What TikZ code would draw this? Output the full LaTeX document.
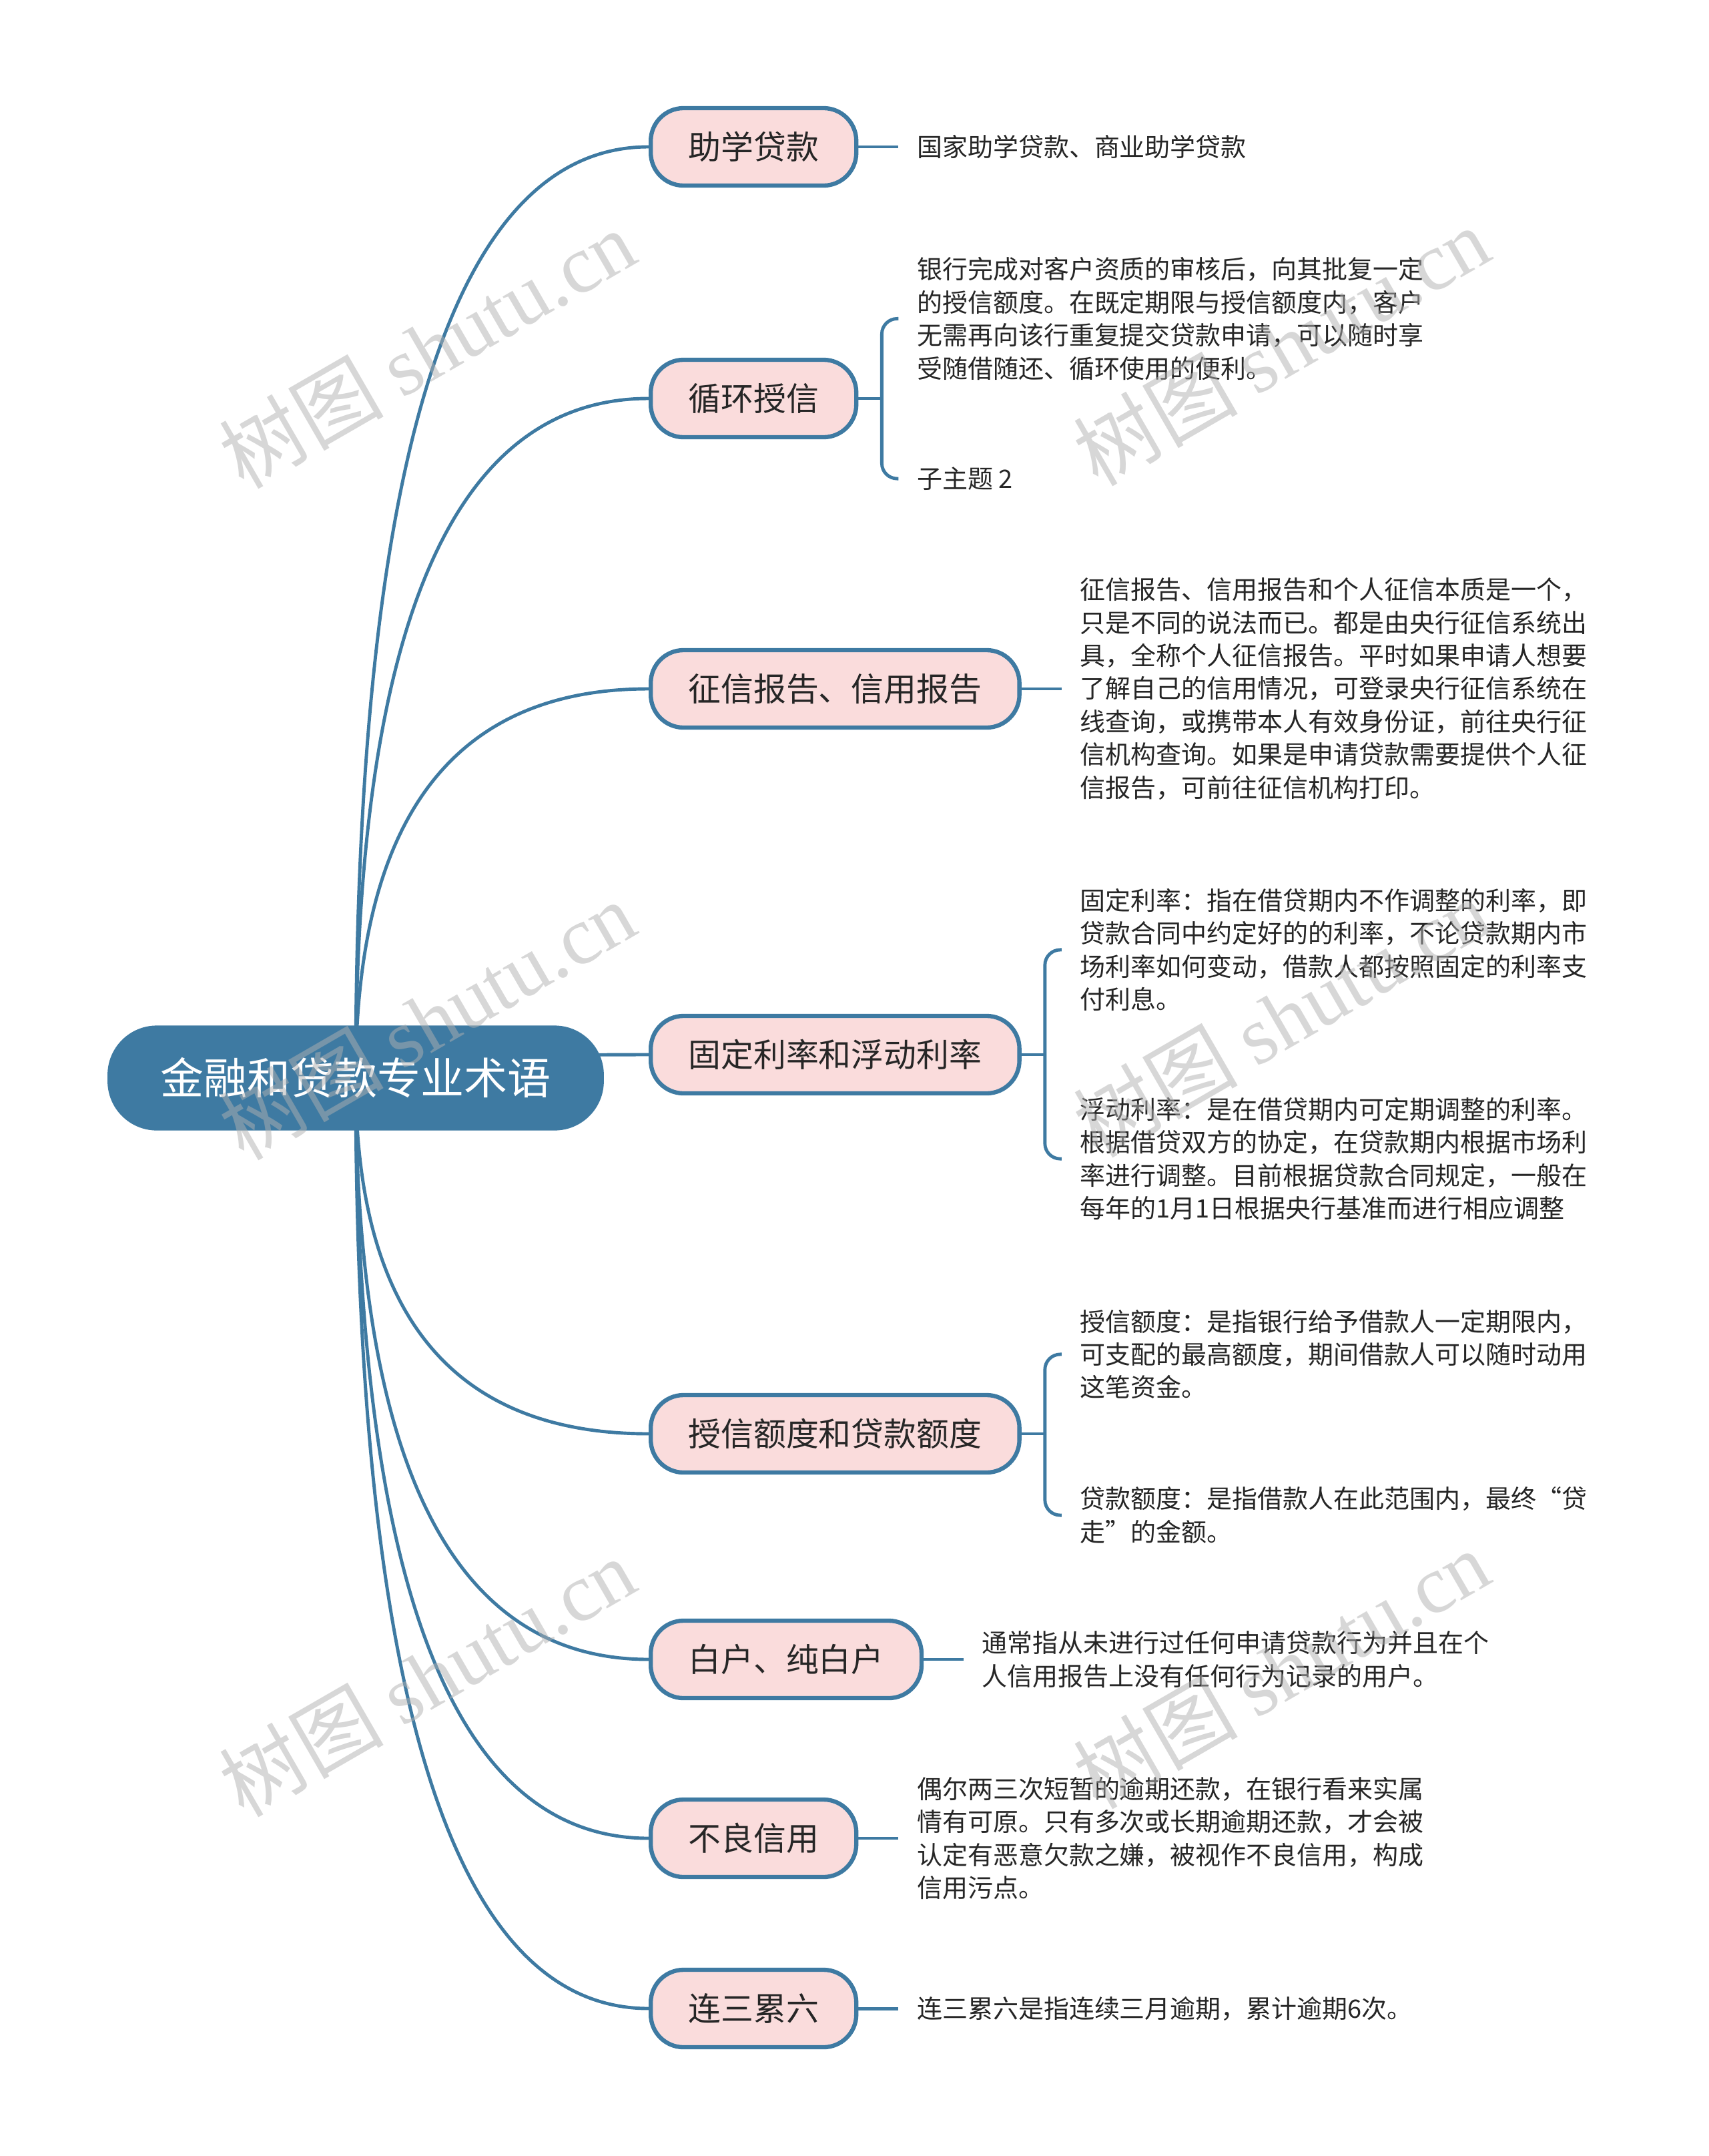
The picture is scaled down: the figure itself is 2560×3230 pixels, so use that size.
\documentclass[tikz,border=0pt]{standalone}
\usepackage{fontspec}
\setmainfont{Noto Sans CJK SC}
\newfontfamily\wmlatin{Liberation Serif}
\usepackage{tikz}
\usetikzlibrary{positioning,calc,backgrounds}
\definecolor{mapblue}{HTML}{3E7AA2}
\definecolor{tintpink}{HTML}{FADCDC}
\definecolor{inkgrey}{HTML}{262626}
\definecolor{markgrey}{HTML}{B0B0B0}

\begin{document}
\begin{tikzpicture}[x=0.01cm,y=0.01cm,
 root/.style={fill=mapblue,rounded corners=21pt,text=white,font=\fontsize{18.5}{22}\selectfont,minimum height=44.7pt,inner xsep=22.5pt},
 topic/.style={draw=mapblue,line width=1.8pt,fill=tintpink,rounded corners=14pt,text=inkgrey,font=\fontsize{13.9}{17}\selectfont,minimum height=33pt,inner xsep=16pt,anchor=west},
 leaf/.style={text=inkgrey,font=\fontsize{10.8}{14.05}\selectfont,align=left,inner xsep=0.27cm,inner ysep=0pt},
 lin/.style={draw=mapblue,line width=1.4pt},
 wmark/.style={rotate=30,text=markgrey,text opacity=0.5,font=\fontsize{35}{35}\selectfont}]
\useasboundingbox (0,0) rectangle (2560,-3230);
\node[root] (root) at (533,-1615) {金融和贷款专业术语};
\node[topic] (b1) at (972,-220) {助学贷款};
\node[topic] (b2) at (972,-597) {循环授信};
\node[topic] (b3) at (972,-1032) {征信报告、信用报告};
\node[topic] (b4) at (972,-1580) {固定利率和浮动利率};
\node[topic] (b5) at (972,-2148) {授信额度和贷款额度};
\node[topic] (b6) at (972,-2486) {白户、纯白户};
\node[topic] (b7) at (972,-2754) {不良信用};
\node[topic] (b8) at (972,-3009) {连三累六};
\node[leaf,right=0.6cm of b1] (l1) {国家助学贷款、商业助学贷款};
\node[leaf,right=0.6cm of b2,yshift=1.195cm] (l2a) {银行完成对客户资质的审核后，向其批复一定\\的授信额度。在既定期限与授信额度内，客户\\无需再向该行重复提交贷款申请，可以随时享\\受随借随还、循环使用的便利。};
\node[leaf,right=0.6cm of b2,yshift=-1.2cm] (l2b) {子主题 2};
\node[leaf,right=0.6cm of b3] (l3) {征信报告、信用报告和个人征信本质是一个，\\只是不同的说法而已。都是由央行征信系统出\\具，全称个人征信报告。平时如果申请人想要\\了解自己的信用情况，可登录央行征信系统在\\线查询，或携带本人有效身份证，前往央行征\\信机构查询。如果是申请贷款需要提供个人征\\信报告，可前往征信机构打印。};
\node[leaf,right=0.6cm of b4,yshift=1.57cm] (l4a) {固定利率：指在借贷期内不作调整的利率，即\\贷款合同中约定好的的利率，不论贷款期内市\\场利率如何变动，借款人都按照固定的利率支\\付利息。};
\node[leaf,right=0.6cm of b4,yshift=-1.56cm] (l4b) {浮动利率：是在借贷期内可定期调整的利率。\\根据借贷双方的协定，在贷款期内根据市场利\\率进行调整。目前根据贷款合同规定，一般在\\每年的1月1日根据央行基准而进行相应调整};
\node[leaf,right=0.6cm of b5,yshift=1.19cm] (l5a) {授信额度：是指银行给予借款人一定期限内，\\可支配的最高额度，期间借款人可以随时动用\\这笔资金。};
\node[leaf,right=0.6cm of b5,yshift=-1.22cm] (l5b) {贷款额度：是指借款人在此范围内，最终“贷\\走”的金额。};
\node[leaf,right=0.6cm of b6] (l6) {通常指从未进行过任何申请贷款行为并且在个\\人信用报告上没有任何行为记录的用户。};
\node[leaf,right=0.6cm of b7] (l7) {偶尔两三次短暂的逾期还款，在银行看来实属\\情有可原。只有多次或长期逾期还款，才会被\\认定有恶意欠款之嫌，被视作不良信用，构成\\信用污点。};
\node[leaf,right=0.6cm of b8] (l8) {连三累六是指连续三月逾期，累计逾期6次。};
\coordinate[right=0.35cm of b2] (j2);
\coordinate[right=0.35cm of b4] (j4);
\coordinate[right=0.35cm of b5] (j5);
\begin{scope}[on background layer]
\fill[white] (0,0) rectangle (2560,-3230);
\foreach \b in {b1,b2,b3,b4,b5,b6,b7,b8}
 \draw[lin] (root.center) .. controls ($(root.center)!0.667!(root.center |- \b.west)$) and ($(\b.west)!0.667!(root.center |- \b.west)$) .. (\b.west);
\foreach \b/\l in {b1/l1,b3/l3,b6/l6,b7/l7,b8/l8} \draw[lin] (\b.east) -- (\l.west);
\foreach \b/\j in {b2/j2,b4/j4,b5/j5} \draw[lin] (\b.east) -- (\j);
\foreach \j/\l in {j2/l2a,j2/l2b,j4/l4a,j4/l4b,j5/l5a,j5/l5b} \draw[lin,rounded corners=0.23cm] (\j) |- (\l.west);
\end{scope}
% watermark
\foreach \wx/\wy [count=\i] in {640/-522,1920/-518,640/-1528,1920/-1524,640/-2512,1920/-2500}
 \node[wmark] (wm\i) at (\wx,\wy) {树图 {\wmlatin shutu.cn}};
\end{tikzpicture}
\end{document}
